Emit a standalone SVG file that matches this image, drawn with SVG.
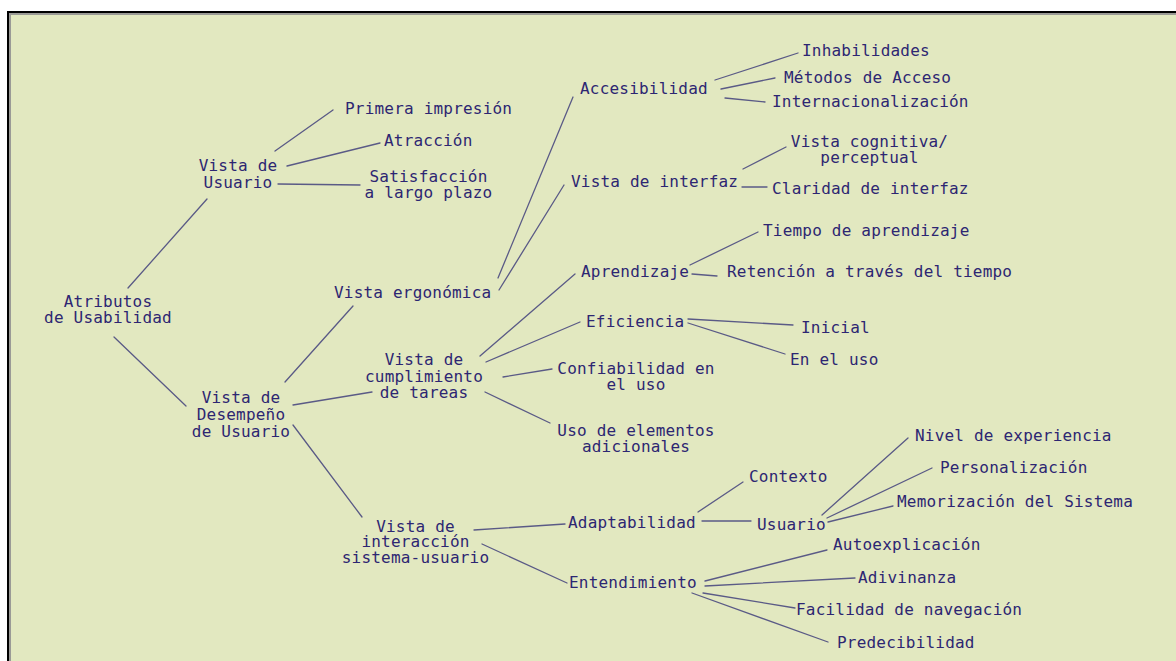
<svg xmlns="http://www.w3.org/2000/svg" width="1176" height="661" viewBox="0 0 1176 661">
  <style>
    .bg { fill: #e2e8c0; }
    .lbl { font-family: "DejaVu Sans Mono", "Liberation Mono", monospace; font-size: 16px; letter-spacing: 0.2px; fill: #2d2672; }
    .mid { text-anchor: middle; }
    .edge line { stroke: #5a5a86; stroke-width: 1.3; stroke-linecap: round; }
  </style>

  <!-- page and panel frame -->
  <rect x="0" y="0" width="1176" height="661" fill="#ffffff"/>
  <rect class="bg" x="7" y="11" width="1169" height="650"/>
  <path d="M10,661 V14 H1176" fill="none" stroke="#9a9a96" stroke-width="2"/>
  <path d="M8,661 V12 H1176" fill="none" stroke="#000000" stroke-width="2"/>

  <!-- connectors -->
  <g id="connectors" class="edge">
    <line x1="128" y1="288" x2="207" y2="199"/>
    <line x1="114" y1="337" x2="186" y2="406"/>
    <line x1="275" y1="151" x2="333" y2="110"/>
    <line x1="287" y1="166" x2="380" y2="143"/>
    <line x1="278" y1="184" x2="360" y2="185"/>
    <line x1="285" y1="382" x2="353" y2="306"/>
    <line x1="293" y1="405" x2="372" y2="392"/>
    <line x1="293" y1="425" x2="362" y2="517"/>
    <line x1="498" y1="278" x2="573" y2="97"/>
    <line x1="499" y1="290" x2="564" y2="185"/>
    <line x1="715" y1="80" x2="798" y2="53"/>
    <line x1="721" y1="89" x2="775" y2="78"/>
    <line x1="725" y1="98" x2="765" y2="102"/>
    <line x1="743" y1="169" x2="786" y2="147"/>
    <line x1="742" y1="187" x2="767" y2="187"/>
    <line x1="480" y1="356" x2="575" y2="274"/>
    <line x1="486" y1="362" x2="580" y2="322"/>
    <line x1="503" y1="377" x2="552" y2="369"/>
    <line x1="485" y1="392" x2="550" y2="423"/>
    <line x1="690" y1="265" x2="758" y2="232"/>
    <line x1="692" y1="274" x2="717" y2="276"/>
    <line x1="688" y1="319" x2="793" y2="325"/>
    <line x1="688" y1="323" x2="785" y2="354"/>
    <line x1="474" y1="530" x2="565" y2="524"/>
    <line x1="482" y1="544" x2="567" y2="583"/>
    <line x1="698" y1="512" x2="743" y2="482"/>
    <line x1="702" y1="521" x2="751" y2="521"/>
    <line x1="822" y1="515" x2="908" y2="438"/>
    <line x1="827" y1="518" x2="932" y2="468"/>
    <line x1="828" y1="522" x2="893" y2="506"/>
    <line x1="705" y1="581" x2="827" y2="550"/>
    <line x1="705" y1="586" x2="855" y2="578"/>
    <line x1="703" y1="593" x2="795" y2="608"/>
    <line x1="692" y1="593" x2="828" y2="642"/>
  </g>

  <!-- root -->
  <g id="atributos"><text class="lbl mid" x="108" y="307">Atributos</text><text class="lbl mid" x="108" y="323">de Usabilidad</text></g>

  <!-- user view branch -->
  <g id="vista-usuario"><text class="lbl mid" x="238" y="171">Vista de</text><text class="lbl mid" x="238" y="188">Usuario</text></g>
  <g id="primera-impresion"><text class="lbl" x="345" y="114">Primera impresión</text></g>
  <g id="atraccion"><text class="lbl" x="384" y="146">Atracción</text></g>
  <g id="satisfaccion"><text class="lbl mid" x="428.5" y="182">Satisfacción</text><text class="lbl mid" x="428.5" y="198">a largo plazo</text></g>

  <!-- performance branch -->
  <g id="vista-desempeno"><text class="lbl mid" x="241" y="403">Vista de</text><text class="lbl mid" x="241" y="420">Desempeño</text><text class="lbl mid" x="241" y="437">de Usuario</text></g>
  <g id="vista-ergonomica"><text class="lbl" x="334" y="298">Vista ergonómica</text></g>
  <g id="vista-cumplimiento"><text class="lbl mid" x="424" y="365">Vista de</text><text class="lbl mid" x="424" y="382">cumplimiento</text><text class="lbl mid" x="424" y="398">de tareas</text></g>
  <g id="vista-interaccion"><text class="lbl mid" x="415.5" y="532">Vista de</text><text class="lbl mid" x="415.5" y="547">interacción</text><text class="lbl mid" x="415.5" y="563">sistema-usuario</text></g>

  <!-- ergonomic view -->
  <g id="accesibilidad"><text class="lbl" x="580" y="94">Accesibilidad</text></g>
  <g id="inhabilidades"><text class="lbl" x="802" y="56">Inhabilidades</text></g>
  <g id="metodos-acceso"><text class="lbl" x="784" y="83">Métodos de Acceso</text></g>
  <g id="internacionalizacion"><text class="lbl" x="772" y="107">Internacionalización</text></g>
  <g id="vista-interfaz"><text class="lbl" x="571" y="187">Vista de interfaz</text></g>
  <g id="vista-cognitiva"><text class="lbl mid" x="869.5" y="147">Vista cognitiva/</text><text class="lbl mid" x="869.5" y="163">perceptual</text></g>
  <g id="claridad-interfaz"><text class="lbl" x="772" y="194">Claridad de interfaz</text></g>

  <!-- task fulfilment view -->
  <g id="aprendizaje"><text class="lbl" x="581" y="277">Aprendizaje</text></g>
  <g id="tiempo-aprendizaje"><text class="lbl" x="763" y="236">Tiempo de aprendizaje</text></g>
  <g id="retencion"><text class="lbl" x="727" y="277">Retención a través del tiempo</text></g>
  <g id="eficiencia"><text class="lbl" x="586" y="327">Eficiencia</text></g>
  <g id="inicial"><text class="lbl" x="801" y="333">Inicial</text></g>
  <g id="en-el-uso"><text class="lbl" x="790" y="365">En el uso</text></g>
  <g id="confiabilidad"><text class="lbl mid" x="636" y="374">Confiabilidad en</text><text class="lbl mid" x="636" y="390">el uso</text></g>
  <g id="elementos-adicionales"><text class="lbl mid" x="636" y="436">Uso de elementos</text><text class="lbl mid" x="636" y="452">adicionales</text></g>

  <!-- interaction view -->
  <g id="adaptabilidad"><text class="lbl" x="568" y="528">Adaptabilidad</text></g>
  <g id="contexto"><text class="lbl" x="749" y="482">Contexto</text></g>
  <g id="usuario"><text class="lbl" x="757" y="530">Usuario</text></g>
  <g id="nivel-experiencia"><text class="lbl" x="915" y="441">Nivel de experiencia</text></g>
  <g id="personalizacion"><text class="lbl" x="940" y="473">Personalización</text></g>
  <g id="memorizacion"><text class="lbl" x="897" y="507">Memorización del Sistema</text></g>
  <g id="entendimiento"><text class="lbl" x="569" y="588">Entendimiento</text></g>
  <g id="autoexplicacion"><text class="lbl" x="833" y="550">Autoexplicación</text></g>
  <g id="adivinanza"><text class="lbl" x="858" y="583">Adivinanza</text></g>
  <g id="facilidad-navegacion"><text class="lbl" x="796" y="615">Facilidad de navegación</text></g>
  <g id="predecibilidad"><text class="lbl" x="837" y="648">Predecibilidad</text></g>
</svg>
